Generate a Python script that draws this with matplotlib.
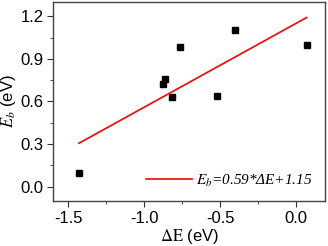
import matplotlib
matplotlib.use('Agg')
import matplotlib.pyplot as plt
from matplotlib.ticker import MultipleLocator

# data
dE = [-1.43, -0.874, -0.863, -0.815, -0.762, -0.522, -0.402, 0.068]
Eb = [0.10, 0.72, 0.76, 0.63, 0.98, 0.64, 1.10, 1.00]
slope = 0.59
intercept = 1.15
fit_x = [-1.43, 0.068]

plt.rcParams['font.family'] = 'Liberation Sans'
plt.rcParams['mathtext.fontset'] = 'stix'
plt.rcParams['axes.unicode_minus'] = False

fig = plt.figure(figsize=(3.28, 2.46), dpi=100)
ax = fig.add_axes([0.162, 0.183, 0.829, 0.809])

ax.plot(dE, Eb, 'ks', ms=3.8, ls='none')
fit_y = [slope * x + intercept for x in fit_x]
ax.plot(fit_x, fit_y, color='#ff0000', lw=1.2, label=r'$E_b$=0.59*ΔE+1.15')

ax.set_xlim(-1.6, 0.19)
ax.set_ylim(-0.1, 1.3)
ax.xaxis.set_major_locator(MultipleLocator(0.5))
ax.xaxis.set_minor_locator(MultipleLocator(0.25))
ax.yaxis.set_major_locator(MultipleLocator(0.3))
ax.yaxis.set_minor_locator(MultipleLocator(0.15))
ax.tick_params(which='both', direction='out', labelsize=12, color='#333333')
ax.tick_params(which='major', length=4, pad=3)
ax.tick_params(which='minor', length=2.5)
for s in ax.spines.values():
    s.set_color('#444444')
    s.set_linewidth(1)

ax.set_xlabel(r'$\mathrm{\Delta E}$ (eV)', fontsize=12, labelpad=1)
ax.set_ylabel(r'$E_b$ (eV)', fontsize=12, labelpad=2)

leg = ax.legend(loc='lower right', frameon=False, handlelength=3.0,
                handletextpad=0.3, borderaxespad=0.4,
                prop={'family': 'Liberation Serif', 'style': 'italic', 'size': 11})

fig.savefig('out.png', dpi=100)
